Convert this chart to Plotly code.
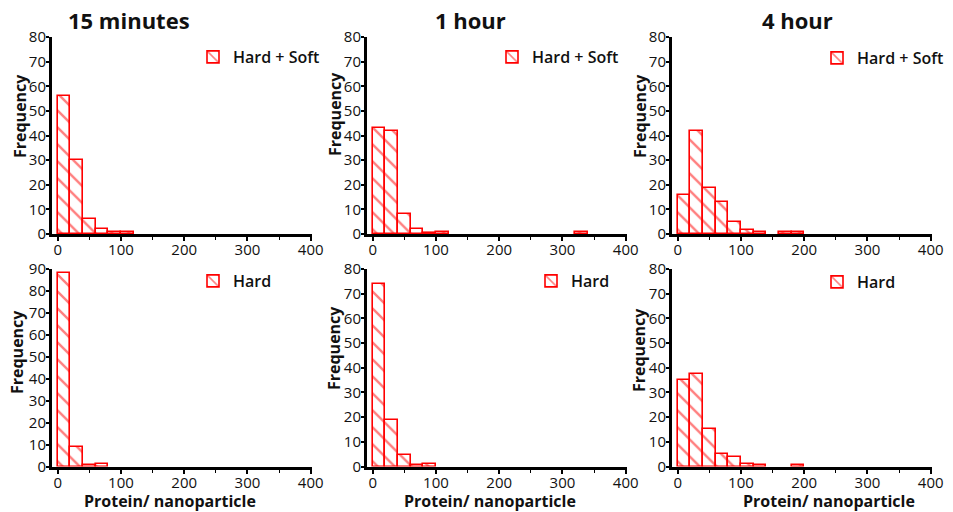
import plotly.graph_objects as go

W, H = 953, 512

# ---- data (bins of width 20, given by their centres) ----
bin_centers = [10, 30, 50, 70, 90, 110, 130, 150, 170, 190, 330]

# frequency per bin (same order as bin_centers); None = empty bin
hs_15min = [56, 30, 6, 2, 1, 1, None, None, None, None, None]
hs_1h    = [43, 42, 8, 2, 0.5, 1, None, None, None, None, 1]
hs_4h    = [16, 42, 18.5, 13, 5, 1.5, 1, None, 1, 1, None]
h_15min  = [88, 9, 0.5, 1, None, None, None, None, None, None, None]
h_1h     = [74, 19, 4.5, 0.5, 1, None, None, None, None, None, None]
h_4h     = [35, 37.5, 15, 5, 4, 1, 0.5, None, None, 0.5, None]

titles = ["15 minutes", "1 hour", "4 hour"]
legend_names = ["Hard + Soft", "Hard"]
x_ticks = [0, 100, 200, 300, 400]

panels = [
    (hs_15min, 0, 0, 80), (hs_1h, 0, 1, 80), (hs_4h, 0, 2, 80),
    (h_15min, 1, 0, 90), (h_1h, 1, 1, 80), (h_4h, 1, 2, 80),
]

# pixel layout helpers
col_px = [(52, 312), (367, 627), (672, 932)]
row_px = [(37, 234), (269, 466.5)]
legend_text_px = [[(233, 57), (532, 57), (857, 58)], [(233, 281), (571, 281), (857, 282)]]
title_px = [(129, 20), (470, 20), (797, 20)]
xtitle_px = [(170, 501), (490, 501), (829, 501)]
ytitle_px = [[(20, 116), (335, 114), (640, 116)], [(17, 352), (334, 348), (639, 350)]]

def px(x):
    return x / W

def py(y):
    return 1 - y / H

FONT = "Open Sans"
RED = "#ff0000"

fig = go.Figure()
layout = dict(
    width=W, height=H, margin=dict(l=0, r=0, t=0, b=0, autoexpand=False),
    paper_bgcolor="white", plot_bgcolor="white", showlegend=True,
    barmode="overlay", bargap=0,
)
annotations = []

for i, (vals, r, c, ymax) in enumerate(panels):
    k = i + 1
    xa = "x" if k == 1 else f"x{k}"
    ya = "y" if k == 1 else f"y{k}"
    lg = "legend" if k == 1 else f"legend{k}"
    fig.add_trace(go.Bar(
        x=bin_centers, y=vals, width=20,
        xaxis=xa, yaxis=ya, legend=lg,
        name=legend_names[r],
        marker=dict(
            color=RED,
            line=dict(color=RED, width=1.6),
            pattern=dict(shape="\\", fgcolor=RED, bgcolor="white", size=12, solidity=0.2),
        ),
    ))
    x0, x1 = col_px[c]
    y0, y1 = row_px[r]
    axis_common = dict(
        showline=True, linecolor="black", linewidth=3, mirror=False,
        ticks="outside", tickwidth=1.5, tickcolor="black",
        showgrid=False, zeroline=False,
        tickfont=dict(family=FONT, size=15, color="#111"),
    )
    layout["xaxis" if k == 1 else f"xaxis{k}"] = dict(
        axis_common, domain=[px(x0), px(x1)], range=[-9, 402],
        anchor=ya, tickvals=x_ticks, ticklen=4, ticklabelstandoff=-4,
        minor=dict(dtick=50, tick0=0, ticks="outside", ticklen=3, tickcolor="black", tickwidth=1),
    )
    layout["yaxis" if k == 1 else f"yaxis{k}"] = dict(
        axis_common, domain=[py(y1), py(y0)], range=[0, ymax],
        anchor=xa, dtick=10, ticklen=3, ticklabelstandoff=-3,
    )
    tx, ty = legend_text_px[r][c]
    layout[lg] = dict(
        x=px(tx - 40), y=py(ty), xanchor="left", yanchor="middle",
        bgcolor="rgba(0,0,0,0)", borderwidth=0,
        font=dict(family=FONT, size=16, color="#111", weight=600),
    )
    yx, yy = ytitle_px[r][c]
    annotations.append(dict(
        text="Frequency", x=px(yx), y=py(yy), xref="paper", yref="paper",
        xanchor="center", yanchor="middle",
        showarrow=False, textangle=-90,
        font=dict(family=FONT, size=16, color="#111", weight="bold"),
    ))

for c in range(3):
    tx, ty = title_px[c]
    annotations.append(dict(
        text=titles[c], x=px(tx), y=py(ty), xref="paper", yref="paper",
        xanchor="center", yanchor="middle",
        showarrow=False, font=dict(family=FONT, size=22, color="#111", weight="bold"),
    ))
    bx, by = xtitle_px[c]
    annotations.append(dict(
        text="Protein/ nanoparticle", x=px(bx), y=py(by), xref="paper", yref="paper",
        xanchor="center", yanchor="middle",
        showarrow=False, font=dict(family=FONT, size=16, color="#111", weight="bold"),
    ))

layout["annotations"] = annotations
fig.update_layout(**layout)
fig.write_html("out.html")
